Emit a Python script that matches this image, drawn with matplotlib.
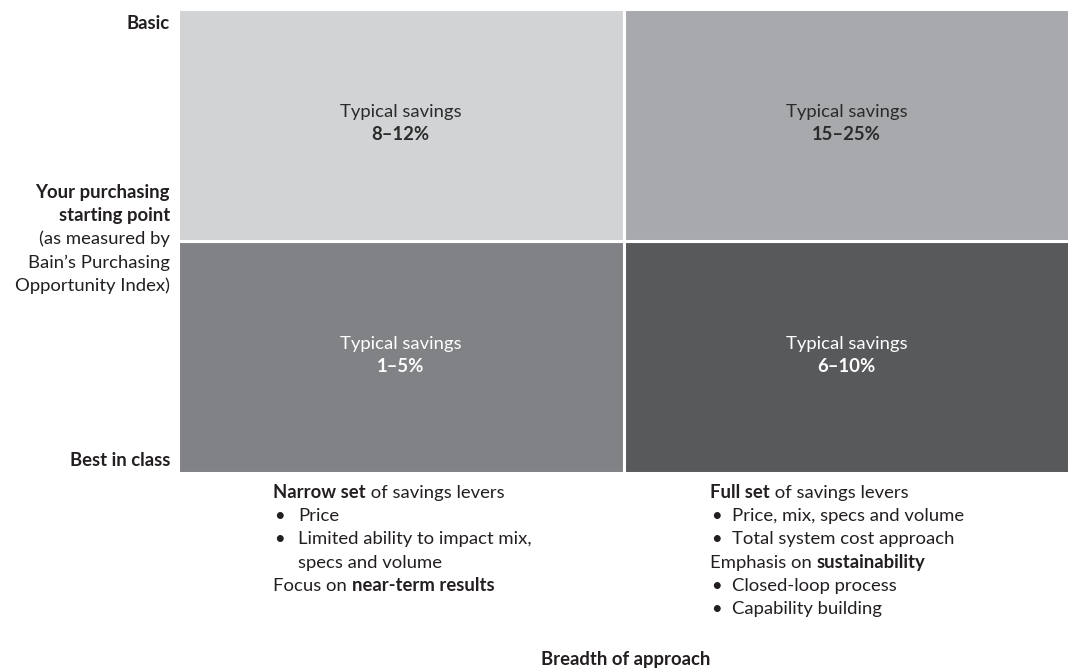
import matplotlib
matplotlib.use("Agg")
import matplotlib.pyplot as plt

plt.rcParams['font.family'] = ['Lato', 'DejaVu Sans']

# ---- data ----
columns = ["Narrow", "Full"]              # breadth of approach (x)
rows = ["Best in class", "Basic"]          # starting point (y, bottom->top)
savings = {("Basic", "Narrow"): "8–12%",
           ("Basic", "Full"): "15–25%",
           ("Best in class", "Narrow"): "1–5%",
           ("Best in class", "Full"): "6–10%"}
cell_colors = {("Basic", "Narrow"): "#d1d3d4",
               ("Basic", "Full"): "#a7a9ac",
               ("Best in class", "Narrow"): "#808285",
               ("Best in class", "Full"): "#58595b"}
cell_text_colors = {"Basic": "#2b2b2b", "Best in class": "#ffffff"}
cell_label = "Typical savings"

y_axis_title = ["Your purchasing", "starting point"]
y_axis_sub = ["(as measured by", "Bain’s Purchasing", "Opportunity Index)"]
x_axis_title = "Breadth of approach"

# descriptions: list of (kind, runs); kind 'line' or 'bullet'; runs = [(text, bold)]
desc_narrow = [
    ("line", [("Narrow set", True), (" of savings levers", False)]),
    ("bullet", [("Price", False)]),
    ("bullet", [("Limited ability to impact mix,", False)]),
    ("cont", [("specs and volume", False)]),
    ("line", [("Focus on ", False), ("near-term results", True)]),
]
desc_full = [
    ("line", [("Full set", True), (" of savings levers", False)]),
    ("bullet", [("Price, mix, specs and volume", False)]),
    ("bullet", [("Total system cost approach", False)]),
    ("line", [("Emphasis on ", False), ("sustainability", True)]),
    ("bullet", [("Closed-loop process", False)]),
    ("bullet", [("Capability building", False)]),
]

TXT = "#231f20"
FS = 13.3
NORMAL = "normal"
W, H = 1068, 670

fig = plt.figure(figsize=(W / 100, H / 100), dpi=100)

# ---- quadrant grid ----
L, R, T, B = 179 - 1.5, 1068 + 1.5, 10 - 1.5, 471 + 1.5
axq = fig.add_axes([L / W, 1 - B / H, (R - L) / W, (B - T) / H])
axq.set_xlim(0, len(columns))
axq.set_ylim(0, len(rows))
axq.axis("off")
for ri, r in enumerate(rows):
    for ci, c in enumerate(columns):
        axq.bar(ci + 0.5, 1, bottom=ri, width=1, color=cell_colors[(r, c)],
                edgecolor="white", linewidth=2.2)
        col = cell_text_colors[r]
        axq.annotate(cell_label, xy=(ci + 0.5, ri + 0.5), xytext=(0, 8),
                     textcoords="offset pixels", ha="center", va="baseline",
                     fontsize=FS, color=col, fontweight=NORMAL)
        axq.annotate(savings[(r, c)], xy=(ci + 0.5, ri + 0.5), xytext=(0, -16),
                     textcoords="offset pixels", ha="center", va="baseline",
                     fontsize=FS, color=col, fontweight="bold")

# ---- overlay for labels (pixel coords) ----
ax = fig.add_axes([0, 0, 1, 1], zorder=-1)
ax.set_xlim(0, W)
ax.set_ylim(H, 0)
ax.axis("off")

ax.text(170, 29, rows[1], ha="right", va="baseline", fontsize=FS,
        fontweight="bold", color=TXT)
ax.text(170, 466, rows[0], ha="right", va="baseline", fontsize=FS,
        fontweight="bold", color=TXT)

LS = 23.2
y0 = 198
for i, s in enumerate(y_axis_title):
    ax.text(170, y0 + i * LS, s, ha="right", va="baseline", fontsize=FS,
            fontweight="bold", color=TXT)
for j, s in enumerate(y_axis_sub):
    ax.text(170, y0 + (len(y_axis_title) + j) * LS, s, ha="right",
            va="baseline", fontsize=FS, color=TXT, fontweight=NORMAL)


def draw_runs(x, y, runs):
    prev = None
    for s, bold in runs:
        w = "bold" if bold else NORMAL
        if prev is None:
            prev = ax.text(x, y, s, ha="left", va="baseline", fontsize=FS,
                           fontweight=w, color=TXT)
        else:
            prev = ax.annotate(s, xy=(1, 0), xycoords=prev, ha="left",
                               va="bottom", fontsize=FS, fontweight=w,
                               color=TXT)


def draw_block(x, y, items, indent=24):
    for k, (kind, runs) in enumerate(items):
        yy = y + k * LS
        if kind == "line":
            draw_runs(x, yy, runs)
        else:
            if kind == "bullet":
                ax.text(x + 1, yy, "•", ha="left", va="baseline", fontsize=FS,
                        color=TXT)
            draw_runs(x + indent, yy, runs)


draw_block(273, 498, desc_narrow, indent=25)
draw_block(710, 498, desc_full, indent=22)

ax.text(626, 665, x_axis_title, ha="center", va="baseline", fontsize=FS,
        fontweight="bold", color=TXT)

fig.savefig("out.png", dpi=100)
